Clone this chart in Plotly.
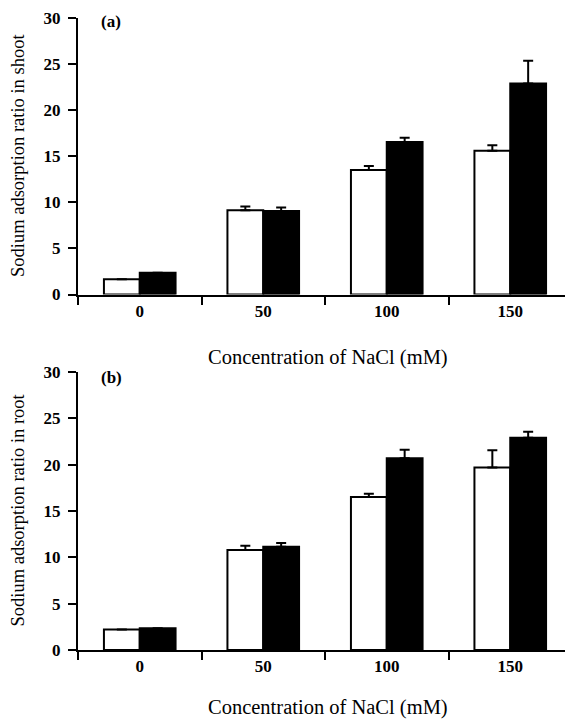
import plotly.graph_objects as go
from plotly.subplots import make_subplots

# ---- data ----
categories = ["0", "50", "100", "150"]
shoot_white = [1.65, 9.15, 13.5, 15.6]
shoot_white_err = [0.0, 0.4, 0.45, 0.6]
shoot_black = [2.35, 9.05, 16.55, 22.9]
shoot_black_err = [0.0, 0.4, 0.45, 2.45]
root_white = [2.2, 10.8, 16.5, 19.7]
root_white_err = [0.0, 0.45, 0.35, 1.85]
root_black = [2.35, 11.15, 20.7, 22.9]
root_black_err = [0.0, 0.4, 0.9, 0.65]
y_ticks = [0, 5, 10, 15, 20, 25, 30]
x_title = "Concentration of NaCl (mM)"
y_title_top = "Sodium adsorption ratio in shoot"
y_title_bottom = "Sodium adsorption ratio in root"

FONT = "Liberation Serif, Times New Roman, serif"
OFF = 8  # page body margin
W, H = 573 - OFF, 723 - OFF
ML, MR, MT, MB = 78 - OFF, 1, 13.5 - OFF, 73
PW, PH = W - ML - MR, H - MT - MB


def fx(px):
    return (px - OFF - ML) / PW


def fy(py):
    return 1 - (py - OFF - MT) / PH


fig = make_subplots(rows=2, cols=1)


def add_pair(white, werr, black, berr, row):
    zeros = [0] * len(categories)
    fig.add_trace(go.Bar(
        x=categories, y=white, name="White",
        marker=dict(color="white", line=dict(color="black", width=2)),
        error_y=dict(type="data", array=werr, arrayminus=zeros, symmetric=False,
                     color="black", thickness=2, width=5),
        showlegend=False), row=row, col=1)
    fig.add_trace(go.Bar(
        x=categories, y=black, name="Black",
        marker=dict(color="black", line=dict(color="black", width=2)),
        error_y=dict(type="data", array=berr, arrayminus=zeros, symmetric=False,
                     color="black", thickness=2, width=5),
        showlegend=False), row=row, col=1)


add_pair(shoot_white, shoot_white_err, shoot_black, shoot_black_err, 1)
add_pair(root_white, root_white_err, root_black, root_black_err, 2)

xaxis_common = dict(
    type="category", showline=True, linecolor="black", linewidth=2,
    ticks="outside", tickson="boundaries", ticklen=8, tickwidth=2, tickcolor="black",
    showgrid=False, zeroline=False,
    tickfont=dict(family=FONT, size=17, color="black", weight="bold"),
)
yaxis_common = dict(
    range=[0, 30], tickvals=y_ticks, showline=True, linecolor="black", linewidth=2,
    ticks="outside", ticklen=8, tickwidth=2, tickcolor="black",
    showgrid=False, zeroline=False, ticklabelstandoff=4,
    tickfont=dict(family=FONT, size=17, color="black", weight="bold"),
)

fig.update_layout(
    width=W, height=H,
    margin=dict(l=ML, r=MR, t=MT, b=MB),
    paper_bgcolor="white", plot_bgcolor="white",
    barmode="group", bargap=0.42, bargroupgap=0,
    xaxis=dict(domain=[0, 1], anchor="y", **xaxis_common),
    xaxis2=dict(domain=[0, 1], anchor="y2", **xaxis_common),
    yaxis=dict(domain=[fy(292), 1], anchor="x", **yaxis_common),
    yaxis2=dict(domain=[0, fy(370)], anchor="x2", **yaxis_common),
    font=dict(family=FONT, color="black"),
)

annots = [
    dict(text="(a)", x=fx(111), y=fy(17), font=dict(size=17, weight="bold")),
    dict(text="(b)", x=fx(111), y=fy(376), font=dict(size=17, weight="bold")),
    dict(text=x_title, x=fx(328), y=fy(355), font=dict(size=20.5)),
    dict(text=x_title, x=fx(328), y=fy(708), font=dict(size=20.5)),
    dict(text=y_title_top, x=fx(17.5), y=fy(152), font=dict(size=18.5), textangle=-90),
    dict(text=y_title_bottom, x=fx(17.5), y=fy(509), font=dict(size=18.5), textangle=-90),
]
for a in annots:
    fig.add_annotation(xref="paper", yref="paper", showarrow=False,
                       xanchor="center", yanchor="middle",
                       font=dict(family=FONT, color="black", **a.pop("font")), **a)

fig.write_html("out.html")
